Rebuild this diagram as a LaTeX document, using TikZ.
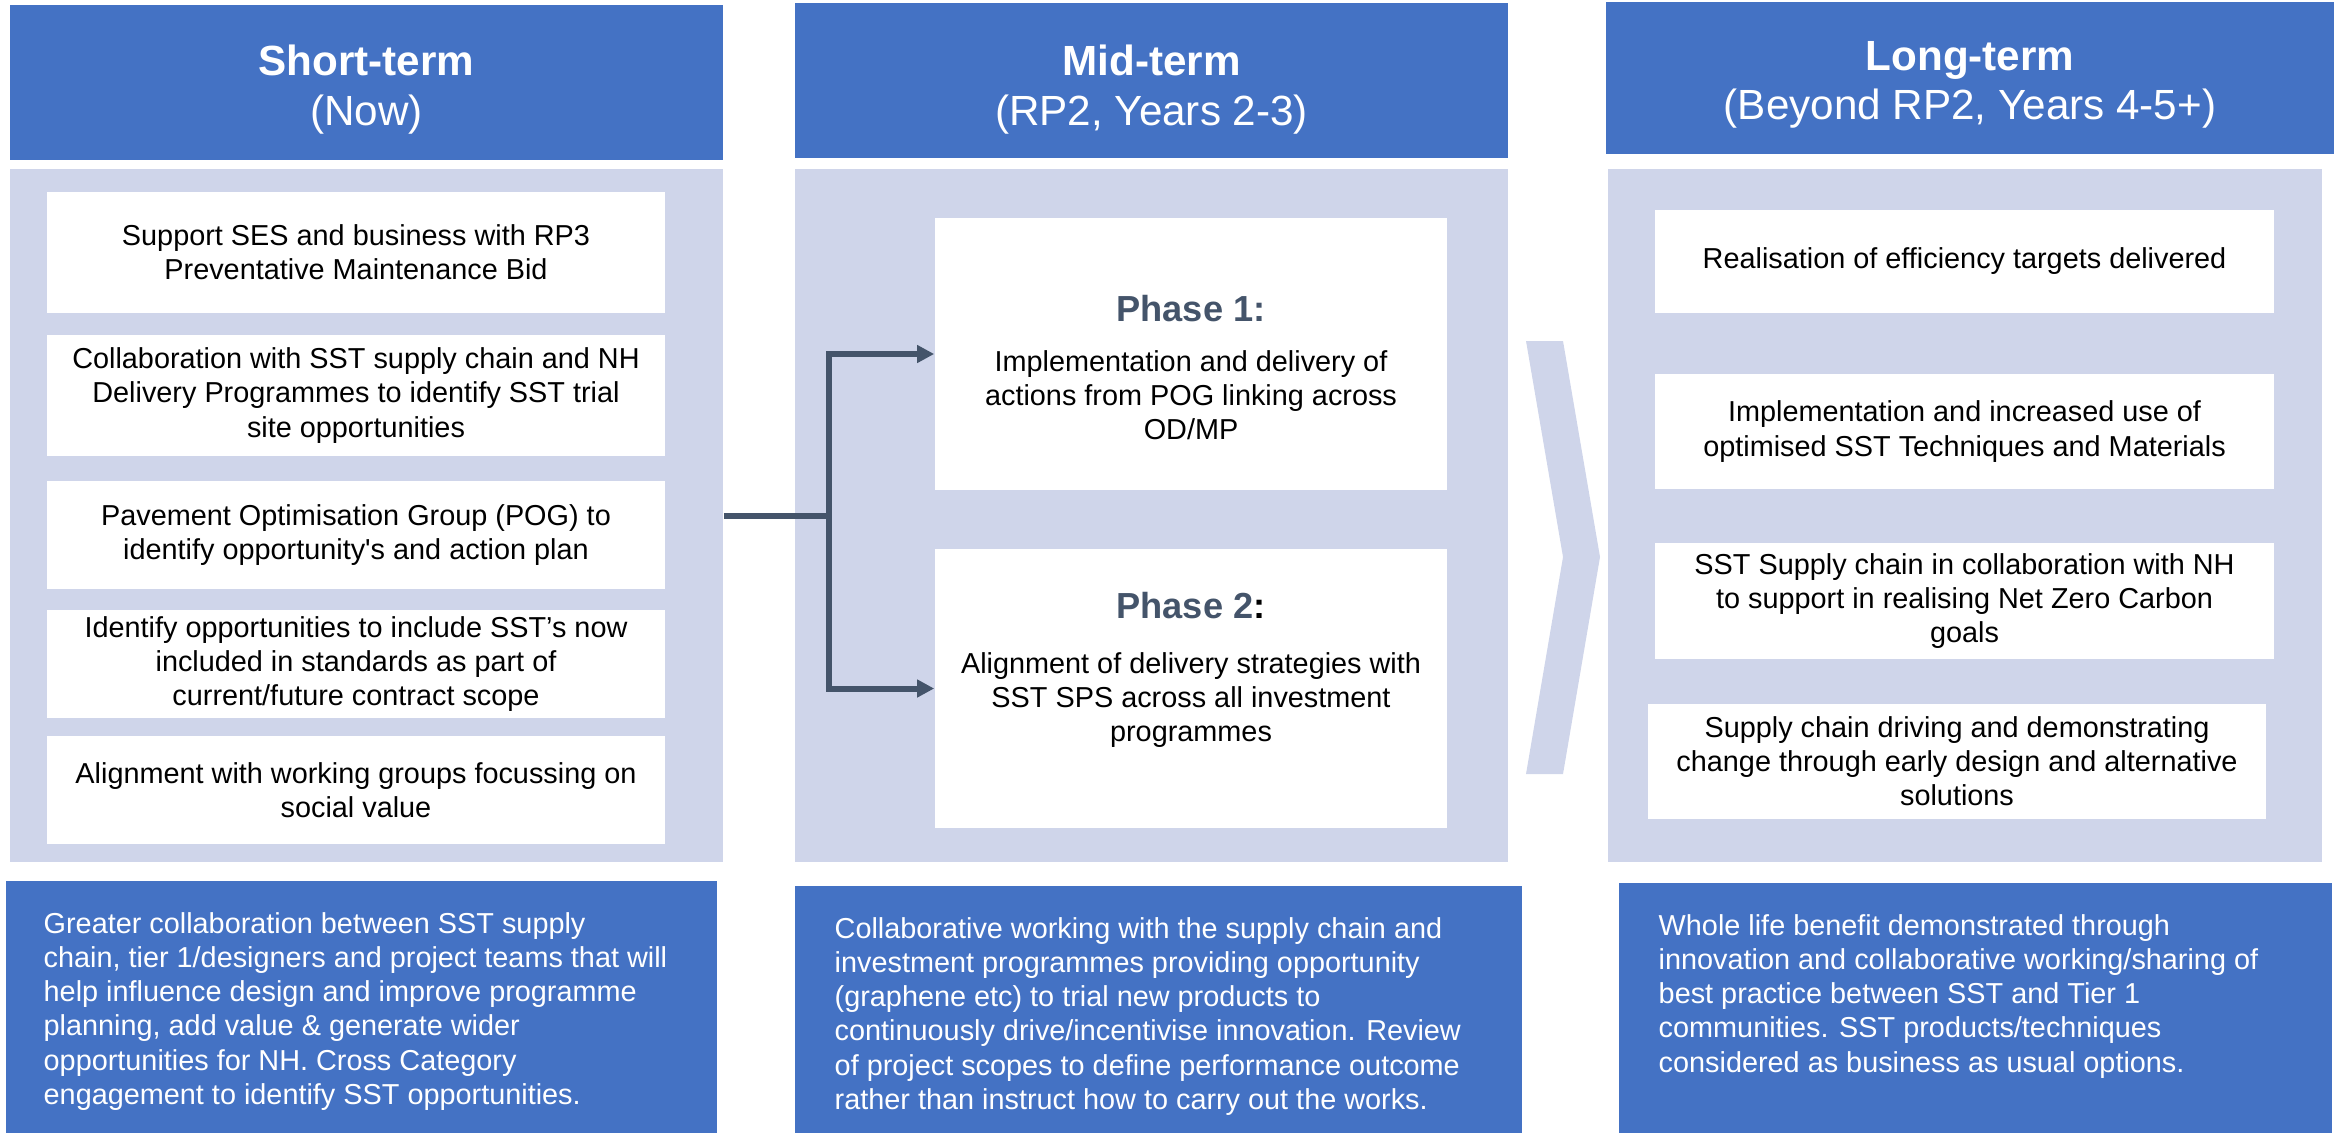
\documentclass[tikz,border=0pt]{standalone}
\usepackage{fontspec}
\setmainfont{Liberation Sans}
\newfontfamily\plainsans{Liberation Sans}
\usetikzlibrary{arrows.meta}
\definecolor{hdrblue}{HTML}{4472C4}
\definecolor{panelbg}{HTML}{CFD5EA}
\definecolor{slate}{HTML}{44546A}
\tikzset{
  hdr/.style={fill=hdrblue, inner sep=0pt},
  hdrtext/.style={text=white, inner sep=0pt, align=center,
    font=\fontsize{12}{14}\selectfont},
  panel/.style={fill=panelbg, inner sep=0pt},
  wbox/.style={fill=white, inner sep=0pt, align=center, text=black,
    font=\fontsize{8.2}{9.7}\selectfont},
  bluebox/.style={fill=hdrblue, inner sep=0pt},
  btext/.style={text=white, inner sep=0pt, align=left, anchor=north west,
    font=\fontsize{8.2}{9.7}\selectfont},
  ptitle/.style={text=slate, inner sep=0pt, font=\fontsize{10.3}{12}\selectfont\bfseries},
  pbody/.style={inner sep=0pt, align=center, font=\fontsize{8.2}{9.7}\selectfont},
  conn/.style={draw=slate, line width=0.06cm},
  arr/.style={conn, -{Triangle[length=0.17cm, width=0.17cm]}},
}
\begin{document}
\begin{tikzpicture}[x=0.01cm, y=-0.01cm]
\useasboundingbox (0,0) rectangle (2343,1133);

% ---------- Short-term ----------
\node[hdr, minimum width=7.13cm, minimum height=1.55cm] (sh) at (366.5,82.5) {};
\node[hdrtext] (sht) at (366.5,89.5) {\textbf{Short-term}\\(Now)};
\node[panel, minimum width=7.13cm, minimum height=6.93cm] (sp) at (366.5,515.5) {};
\node[wbox, minimum width=6.18cm, minimum height=1.21cm] (s1) at (356,252.5)
  {Support SES and business with RP3\\Preventative Maintenance Bid};
\node[wbox, minimum width=6.18cm, minimum height=1.21cm] (s2) at (356,395.5)
  {Collaboration with SST supply chain and NH\\Delivery Programmes to identify SST trial\\site opportunities};
\node[wbox, minimum width=6.18cm, minimum height=1.08cm] (s3) at (356,535)
  {Pavement Optimisation Group (POG) to\\identify opportunity{\plainsans'}s and action plan};
\node[wbox, minimum width=6.18cm, minimum height=1.08cm] (s4) at (356,664)
  {Identify opportunities to include SST’s now\\included in standards as part of\\current/future contract scope};
\node[wbox, minimum width=6.18cm, minimum height=1.08cm] (s5) at (356,790)
  {Alignment with working groups focussing on\\social value};
\node[bluebox, minimum width=7.11cm, minimum height=2.52cm] (sb) at (361.5,1007) {};
\node[btext] (sbt) at (43,912)
  {Greater collaboration between SST supply\\chain, tier 1/designers and project teams that will\\help influence design and  improve programme\\planning, add value \& generate wider\\opportunities for NH. Cross Category\\engagement to identify SST opportunities.};

% ---------- Mid-term ----------
\node[hdr, minimum width=7.13cm, minimum height=1.55cm] (mh) at (1151.5,80.5) {};
\node[hdrtext] (mht) at (1151.5,89.5) {\textbf{Mid-term}\\(RP2, Years 2-3)};
\node[panel, minimum width=7.13cm, minimum height=6.93cm] (mp) at (1151.5,515.5) {};
\node[fill=white, inner sep=0pt, minimum width=5.12cm, minimum height=2.72cm] (p1) at (1191,354) {};
\node[fill=white, inner sep=0pt, minimum width=5.12cm, minimum height=2.79cm] (p2) at (1191,688.5) {};
\node[ptitle] (p1h) at (1191,309) {Phase 1:};
\node[pbody] (p1b) at (1191,395) {Implementation and delivery of\\actions from POG linking across\\OD/MP};
\node[ptitle] (p2h) at (1191,606) {Phase 2\textcolor{black}{:}};
\node[pbody] (p2b) at (1191,700) {Alignment of delivery strategies with\\SST SPS across all investment\\programmes};
\node[bluebox, minimum width=7.27cm, minimum height=2.47cm] (mb) at (1158.5,1009.5) {};
\node[btext] (mbt) at (834,917)
  {Collaborative working with the supply chain and\\investment programmes providing opportunity\\(graphene etc) to trial new products to\\continuously drive/incentivise innovation. Review\\of project scopes to define performance outcome\\rather than instruct how to carry out the works.};

% connectors
\coordinate (j) at (829,516);
\draw[conn] (sp.east |- j) -- (j);
\draw[arr] (j) |- (p1.west);
\draw[arr] (j) |- (p2.west);

% chevron
\fill[panelbg] (1526,341) -- (1563,341) -- (1600,557) -- (1563,774) -- (1526,774) -- (1563,557) -- cycle;

% ---------- Long-term ----------
\node[hdr, minimum width=7.28cm, minimum height=1.52cm] (lh) at (1970,78) {};
\node[hdrtext] (lht) at (1970,85) {\textbf{Long-term}\\(Beyond RP2, Years 4-5+)};
\node[panel, minimum width=7.14cm, minimum height=6.93cm] (lp) at (1965,515.5) {};
\node[wbox, minimum width=6.19cm, minimum height=1.03cm] (l1) at (1964.5,261.5)
  {Realisation of efficiency targets delivered};
\node[wbox, minimum width=6.19cm, minimum height=1.15cm] (l2) at (1964.5,431.5)
  {Implementation and increased use of\\optimised SST Techniques and Materials};
\node[wbox, minimum width=6.19cm, minimum height=1.16cm] (l3) at (1964.5,601)
  {SST Supply chain in collaboration with NH\\to support in realising Net Zero Carbon\\goals};
\node[wbox, minimum width=6.18cm, minimum height=1.15cm] (l4) at (1957,761.5)
  {Supply chain driving and demonstrating\\change through early design and alternative\\solutions};
\node[bluebox, minimum width=7.13cm, minimum height=2.5cm] (lb) at (1975.5,1008) {};
\node[btext] (lbt) at (1658,914)
  {Whole life benefit demonstrated through\\innovation and collaborative working/sharing of\\best practice between SST and  Tier 1\\communities. SST products/techniques\\considered as business as usual options.};
\end{tikzpicture}
\end{document}
